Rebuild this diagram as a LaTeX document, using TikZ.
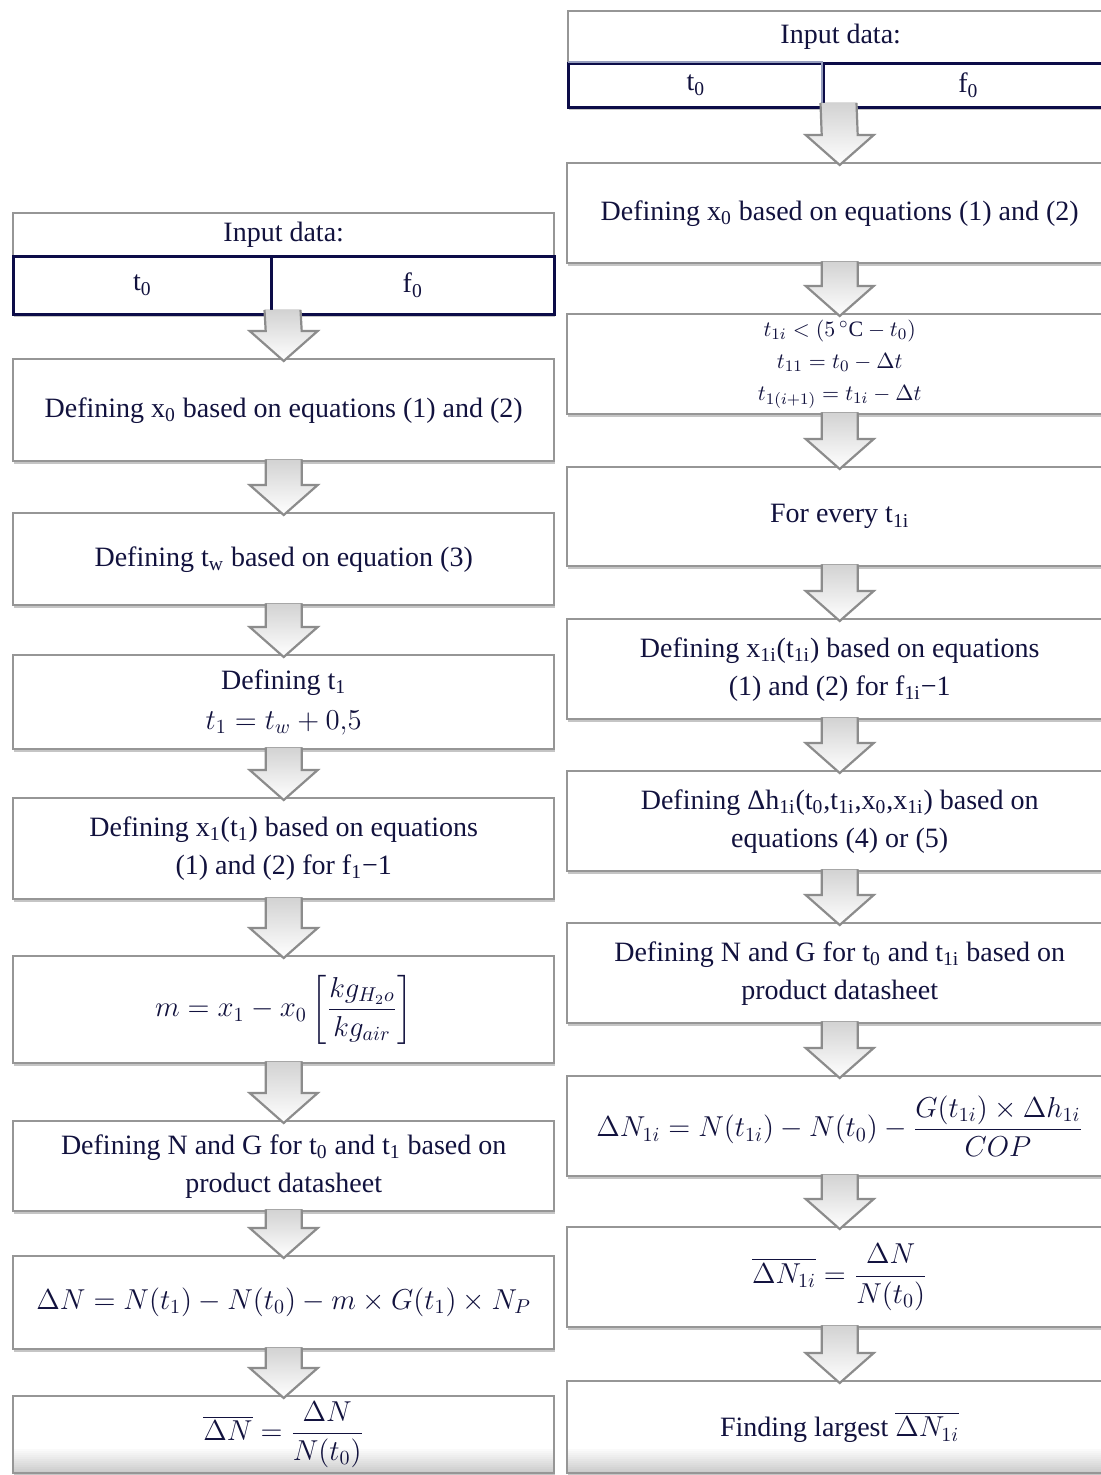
\documentclass[tikz,border=0pt]{standalone}
\usepackage{amsmath}
\usepackage{fontspec}
\setmainfont{Liberation Serif}
\usetikzlibrary{calc,shadows}
\definecolor{txt}{RGB}{18,18,62}
\definecolor{navy}{RGB}{12,12,72}
\definecolor{boxgray}{RGB}{150,150,150}
\definecolor{arrgray}{RGB}{140,140,140}
\newcommand{\blk}[2]{%
  \fill[top color=gray!35, bottom color=white]
    ($(#1)+(-18,-3)$) -- ($(#2)+(-18,-27)$) -- ($(#2)+(-34,-27)$) --
    ($(#2)+(0,3)$) -- ($(#2)+(34,-27)$) -- ($(#2)+(18,-27)$) --
    ($(#1)+(18,-3)$) -- cycle;
  \draw[arrgray, line width=1.1pt, line join=miter]
    ($(#1)+(-18,-3)$) -- ($(#2)+(-18,-27)$) -- ($(#2)+(-34,-27)$) --
    ($(#2)+(0,3)$) -- ($(#2)+(34,-27)$) -- ($(#2)+(18,-27)$) --
    ($(#1)+(18,-3)$);}
\begin{document}
\begin{tikzpicture}[x=0.5pt, y=-0.5pt,
  stepbox/.style={draw=boxgray, line width=1.2pt, fill=white, inner sep=2pt,
    align=center, anchor=north west, text=txt, font=\fontsize{14}{19}\selectfont,
    drop shadow={shadow xshift=0.5pt, shadow yshift=-1.4pt, opacity=0.45}},
  lastbox/.style={stepbox, path picture={
    \foreach \i in {0,...,11}{
      \pgfmathsetmacro{\gv}{40-3.3*\i}
      \fill[gray!\gv] ($(path picture bounding box.south west)+(0,-2*\i)$) rectangle
        ($(path picture bounding box.south east)+(0,-2*\i-2.2)$);}}},
  headbox/.style={stepbox, drop shadow={opacity=0}},
  cellbox/.style={draw=navy, line width=1.3pt, fill=white, inner sep=2pt,
    align=center, anchor=north west, text=txt, font=\fontsize{14}{17}\selectfont,
    drop shadow={shadow xshift=0.5pt, shadow yshift=-1.4pt, opacity=0.45}},
  lw/.style={minimum width=270.5pt},
  rw/.style={minimum width=272.5pt}]
\useasboundingbox (0,0) rectangle (1100,1475);
\fill[white] (0,0) rectangle (1100,1475);

% ---------------- left column ----------------
\node[headbox, lw, minimum height=21.5pt] (LH) at (12,212) {Input data:};
\node[cellbox, minimum width=129pt, minimum height=29pt] (LA) at (12,255) {t\textsubscript{0}};
\node[cellbox, minimum width=141.5pt, minimum height=29pt] (LB) at (270,255) {f\textsubscript{0}};
\coordinate (Lin) at (282.5,313);

\node[stepbox, lw, minimum height=51pt] (L1) at (12,358)
  {Defining x\textsubscript{0} based on equations (1) and (2)};
\node[stepbox, lw, minimum height=46pt] (L2) at (12,512)
  {Defining t\textsubscript{w} based on equation (3)};
\node[stepbox, lw, minimum height=47pt] (L3) at (12,654)
  {Defining t\textsubscript{1}\\[1pt] $t_1 = t_w + 0{,}5$};
\node[stepbox, lw, minimum height=50.5pt] (L4) at (12,797)
  {Defining x\textsubscript{1}(t\textsubscript{1}) based on equations\\(1) and (2) for f\textsubscript{1}−1};
\node[stepbox, lw, minimum height=53.5pt] (L5) at (12,955)
  {\raisebox{5pt}{$m = x_1 - x_0 \left[\dfrac{kg_{H_2o}}{kg_{air}}\right]$}};
\node[stepbox, lw, minimum height=45pt] (L6) at (12,1120)
  {Defining N and G for t\textsubscript{0} and t\textsubscript{1} based on\\product datasheet};
\node[stepbox, lw, minimum height=46.5pt] (L7) at (12,1255)
  {\raisebox{4pt}{$\Delta N = N(t_1) - N(t_0) - m \times G(t_1) \times N_P$}};
\node[lastbox, lw, minimum height=38.5pt] (L8) at (12,1395)
  {\raisebox{5pt}{$\overline{\Delta N} = \dfrac{\Delta N}{N(t_0)}$}};

% ---------------- right column ----------------
\node[headbox, rw, minimum height=26pt] (RH) at (567,10) {Input data:};
\node[cellbox, minimum width=127.5pt, minimum height=22pt] (RA) at (567,62) {t\textsubscript{0}};
\node[cellbox, minimum width=145pt, minimum height=22pt] (RB) at (822,62) {f\textsubscript{0}};
\draw[line width=1.3pt, color={rgb,255:red,150;green,158;blue,190}] (568,62) -- (822,62) -- (822,106);
\coordinate (Rin) at (838.5,106);

\node[stepbox, rw, minimum height=50pt] (R1) at (566,162)
  {Defining x\textsubscript{0} based on equations (1) and (2)};
\node[stepbox, rw, minimum height=50pt, font=\fontsize{11}{16}\selectfont] (R2) at (566,313)
  {\raisebox{4pt}{\parbox{150pt}{\centering
   $t_{1i} < (5\,^{\circ}\mathrm{C} - t_0)$\\
   $t_{11} = t_0 - \Delta t$\\
   $t_{1(i+1)} = t_{1i} - \Delta t$}}};
\node[stepbox, rw, minimum height=49.5pt] (R3) at (566,466)
  {For every t\textsubscript{1i}};
\node[stepbox, rw, minimum height=50pt] (R4) at (566,618)
  {\raisebox{2pt}{\parbox{260pt}{\centering Defining x\textsubscript{1i}(t\textsubscript{1i}) based on equations\\(1) and (2) for f\textsubscript{1i}−1}}};
\node[stepbox, rw, minimum height=50pt] (R5) at (566,770)
  {\raisebox{2pt}{\parbox{260pt}{\centering Defining Δh\textsubscript{1i}(t\textsubscript{0},t\textsubscript{1i},x\textsubscript{0},x\textsubscript{1i}) based on\\equations (4) or (5)}}};
\node[stepbox, rw, minimum height=50pt] (R6) at (566,922)
  {\raisebox{2pt}{\parbox{260pt}{\centering Defining N and G for t\textsubscript{0} and t\textsubscript{1i} based on\\product datasheet}}};
\node[stepbox, rw, minimum height=50pt] (R7) at (566,1075)
  {\raisebox{5pt}{$\Delta N_{1i} = N(t_{1i}) - N(t_0) - \dfrac{G(t_{1i}) \times \Delta h_{1i}}{COP}$}};
\node[stepbox, rw, minimum height=50pt] (R8) at (566,1226)
  {\raisebox{7pt}{$\overline{\Delta N_{1i}} = \dfrac{\Delta N}{N(t_0)}$}};
\node[lastbox, rw, minimum height=46pt] (R9) at (566,1380)
  {\raisebox{-2pt}{Finding largest $\overline{\Delta N_{1i}}$}};

% ---------------- block arrows ----------------
\blk{Lin}{L1.north}
\blk{L1.south}{L2.north}
\blk{L2.south}{L3.north}
\blk{L3.south}{L4.north}
\blk{L4.south}{L5.north}
\blk{L5.south}{L6.north}
\blk{L6.south}{L7.north}
\blk{L7.south}{L8.north}

\blk{Rin}{R1.north}
\blk{R1.south}{R2.north}
\blk{R2.south}{R3.north}
\blk{R3.south}{R4.north}
\blk{R4.south}{R5.north}
\blk{R5.south}{R6.north}
\blk{R6.south}{R7.north}
\blk{R7.south}{R8.north}
\blk{R8.south}{R9.north}
\end{tikzpicture}
\end{document}
